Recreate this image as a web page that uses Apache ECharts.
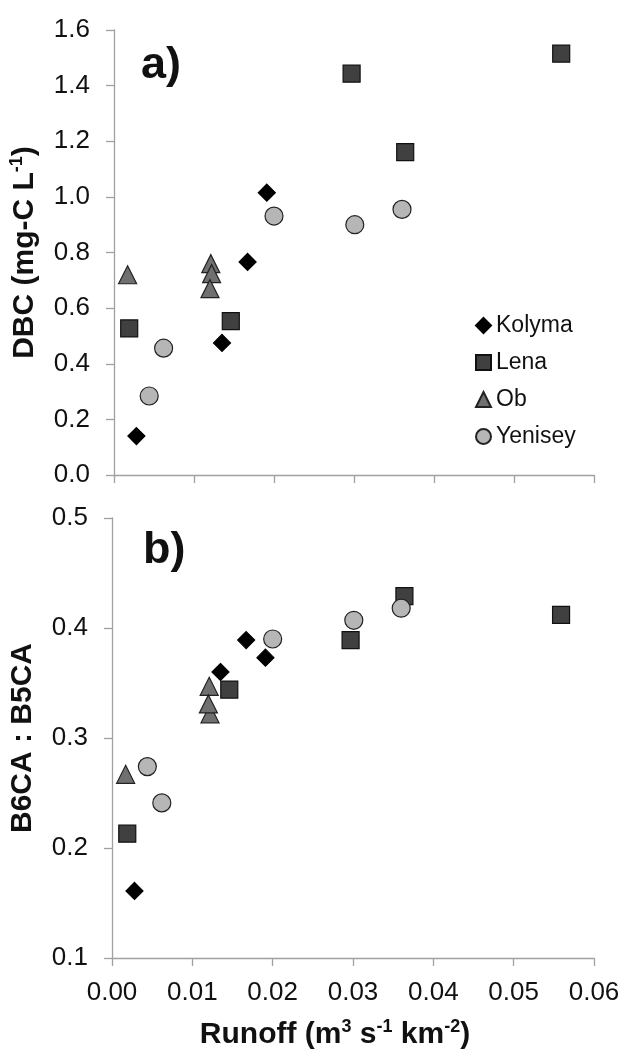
<!DOCTYPE html>
<html>
<head>
<meta charset="utf-8">
<script src="https://cdn.jsdelivr.net/npm/echarts@6/dist/echarts.min.js"></script>
<style>
html,body{margin:0;padding:0;background:#fff;}
#chart{width:623px;height:1051px;}
</style>
</head>
<body>
<div id="chart"></div>
<script>
// ---- data ----
var rivers = ['Kolyma', 'Lena', 'Ob', 'Yenisey'];
var xTicks = ['0.00', '0.01', '0.02', '0.03', '0.04', '0.05', '0.06'];

var kolymaRunoff = [0.0028, 0.0135, 0.0167, 0.0191];
var kolymaDBC    = [0.14, 0.475, 0.766, 1.015];
var kolymaRatio  = [0.161, 0.360, 0.389, 0.373];

var lenaRunoff = [0.0019, 0.0146, 0.0297, 0.0364, 0.0559];
var lenaDBC    = [0.527, 0.553, 1.443, 1.161, 1.515];
var lenaRatio  = [0.213, 0.344, 0.389, 0.429, 0.412];

var obRunoff = [0.0017, 0.0121, 0.0122, 0.0120];
var obDBC    = [0.72, 0.76, 0.724, 0.67];
var obRatio  = [0.267, 0.347, 0.322, 0.331];

var yeniseyRunoff = [0.0044, 0.0062, 0.0200, 0.0301, 0.0360];
var yeniseyDBC    = [0.284, 0.456, 0.931, 0.900, 0.955];
var yeniseyRatio  = [0.274, 0.241, 0.390, 0.407, 0.418];

// ---- build ----
function pairs(xs, ys) { return xs.map(function (x, i) { return [x, ys[i]]; }); }

var FONT = '"Liberation Sans", Arial, sans-serif';
var AXIS_COLOR = '#a0a0a0';

var styles = {
  Kolyma:  { symbol: 'diamond',  size: 17, color: '#000000', border: '#000000' },
  Lena:    { symbol: 'rect',     size: 17, color: '#404040', border: '#111111' },
  Ob:      { symbol: 'triangle', size: 18, color: '#707070', border: '#222222' },
  Yenisey: { symbol: 'circle',   size: 18, color: '#b6b6b6', border: '#222222' }
};
var topData = {
  Kolyma: pairs(kolymaRunoff, kolymaDBC),
  Lena: pairs(lenaRunoff, lenaDBC),
  Ob: pairs(obRunoff, obDBC),
  Yenisey: pairs(yeniseyRunoff, yeniseyDBC)
};
var botData = {
  Kolyma: pairs(kolymaRunoff, kolymaRatio),
  Lena: pairs(lenaRunoff, lenaRatio),
  Ob: pairs(obRunoff, obRatio),
  Yenisey: pairs(yeniseyRunoff, yeniseyRatio)
};

var series = [];
[0, 1].forEach(function (g) {
  rivers.forEach(function (r) {
    var s = styles[r];
    series.push({
      type: 'scatter',
      name: r,
      xAxisIndex: g,
      yAxisIndex: g,
      symbol: s.symbol,
      symbolSize: s.size,
      itemStyle: { color: s.color, borderColor: s.border, borderWidth: 1.2, opacity: 1 },
      emphasis: { disabled: true },
      data: g === 0 ? topData[r] : botData[r]
    });
  });
});

function xAxis(idx, showLabels) {
  return {
    type: 'value', gridIndex: idx, min: 0, max: 0.06, interval: 0.01,
    axisLine: { show: true, onZero: false, lineStyle: { color: AXIS_COLOR, width: 1.3 } },
    axisTick: { show: true, inside: false, length: 8, lineStyle: { color: AXIS_COLOR, width: 1.3 } },
    splitLine: { show: false },
    axisLabel: {
      show: showLabels, margin: 22, fontFamily: FONT, fontSize: 26, color: '#111',
      formatter: function (v) { return xTicks[Math.round(v * 100)]; }
    },
    name: showLabels ? '{n|Runoff (m}{s|3}{n| s}{s|-1}{n| km}{s|-2}{n|)}' : '',
    nameLocation: 'middle',
    nameGap: 60,
    nameTextStyle: {
      padding: [0, 36, 0, 0],
      rich: {
        n: { fontFamily: FONT, fontSize: 30, fontWeight: 'bold', color: '#111', lineHeight: 34 },
        s: { fontFamily: FONT, fontSize: 18, fontWeight: 'bold', color: '#111', verticalAlign: 'top', lineHeight: 34, padding: [0, 0, 14, 0] }
      }
    }
  };
}

function yAxis(idx, min, max, interval, nameRich) {
  return {
    type: 'value', gridIndex: idx, min: min, max: max, interval: interval,
    axisLine: { show: true, lineStyle: { color: AXIS_COLOR, width: 1.3 } },
    axisTick: { show: true, inside: false, length: 8, lineStyle: { color: AXIS_COLOR, width: 1.3 } },
    splitLine: { show: false },
    axisLabel: {
      margin: 24, fontFamily: FONT, fontSize: 26, color: '#111',
      formatter: function (v) { return v.toFixed(1); }
    },
    name: nameRich,
    nameLocation: 'middle',
    nameGap: 72,
    nameRotate: 90,
    nameTextStyle: {
      rich: {
        n: { fontFamily: FONT, fontSize: 30, fontWeight: 'bold', color: '#111', lineHeight: 34 },
        s: { fontFamily: FONT, fontSize: 18, fontWeight: 'bold', color: '#111', verticalAlign: 'top', lineHeight: 34, padding: [0, 0, 14, 0] }
      }
    }
  };
}

var chart = echarts.init(document.getElementById('chart'), null, { renderer: 'canvas' });
chart.setOption({
  backgroundColor: '#ffffff',
  animation: false,
  title: [
    { text: 'a)', left: 136, top: 38, textStyle: { fontFamily: FONT, fontSize: 45, fontWeight: 'bold', color: '#111' } },
    { text: 'b)', left: 138, top: 523, textStyle: { fontFamily: FONT, fontSize: 45, fontWeight: 'bold', color: '#111' } }
  ],
  legend: {
    data: rivers,
    orient: 'vertical',
    left: 470,
    top: 307,
    itemWidth: 15,
    itemHeight: 15,
    itemGap: 10,
    textStyle: { fontFamily: FONT, fontSize: 23, color: '#111', lineHeight: 27 },
    selectedMode: false
  },
  grid: [
    { left: 111, width: 483, top: 30, height: 445 },
    { left: 111, width: 483, top: 518, height: 446 }
  ],
  xAxis: [xAxis(0, false), xAxis(1, true)],
  yAxis: [
    yAxis(0, 0, 1.6, 0.2, '{n|DBC (mg-C L}{s|-1}{n|)}'),
    yAxis(1, 0.1, 0.5, 0.1, '{n|B6CA : B5CA}')
  ],
  series: series
});
</script>
</body>
</html>
